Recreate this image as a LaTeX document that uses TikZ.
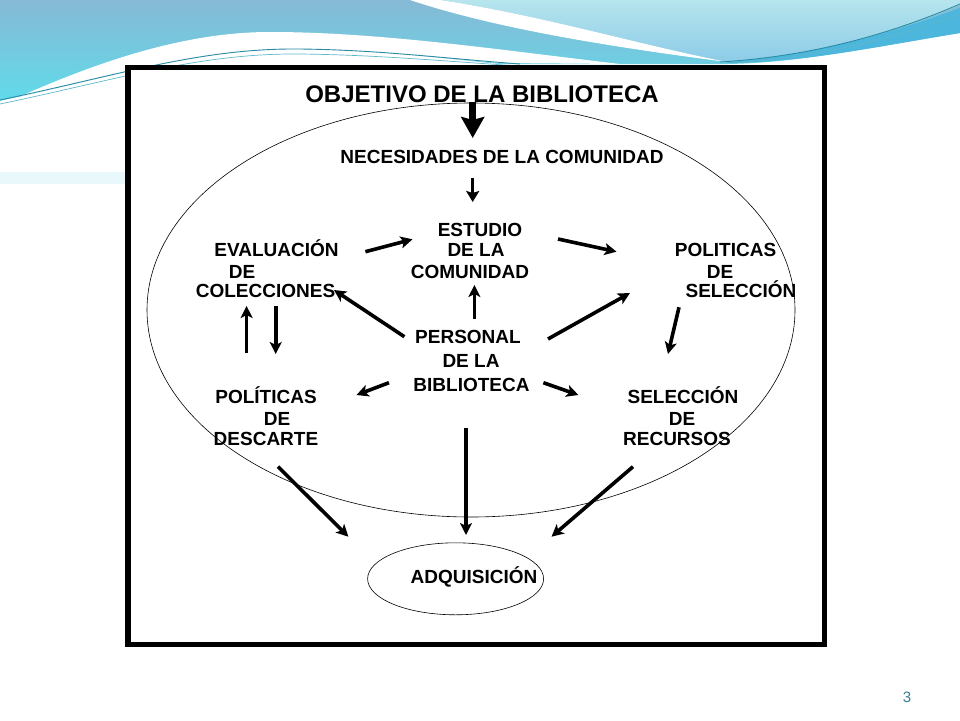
\documentclass[tikz,border=0pt]{standalone}
\usepackage{fontspec}
\setmainfont{Liberation Sans}
\usetikzlibrary{arrows.meta,shapes.geometric}
\definecolor{bandtop}{HTML}{86B9D5}
\definecolor{bandbot}{HTML}{60DBEA}
\definecolor{aquatop}{HTML}{B6E5ED}
\definecolor{aquabot}{HTML}{8CCBE8}
\definecolor{deepblue}{HTML}{4DB6DC}
\definecolor{tealline}{HTML}{2A8CA3}
\definecolor{tealline2}{HTML}{5FB8CC}
\definecolor{faintband}{HTML}{E9F8FA}
\definecolor{pagenum}{HTML}{347F92}
\tikzset{
  lbl/.style={font=\fontsize{19}{21}\selectfont\bfseries, inner sep=0pt, anchor=base},
  ttl/.style={font=\fontsize{24}{26}\selectfont\bfseries, inner sep=0pt, anchor=base},
  arr/.style={line width=3.6pt, -{Stealth[length=12pt,width=12pt,inset=3pt]}},
  thinarr/.style={line width=3pt, -{Stealth[length=11pt,width=13pt,inset=2pt]}},
  bigarr/.style={line width=7pt, -{Stealth[length=21pt,width=23pt,inset=3pt]}},
  ovalnode/.style={draw, ellipse, line width=0.6pt, inner sep=0pt}
}
\begin{document}
\begin{tikzpicture}[x=1pt,y=-1pt]
\useasboundingbox (0,0) rectangle (960,720);
\fill[white] (0,0) rectangle (960,720);
\fill[faintband] (0,172) rectangle (126,184);
% --- slide decoration ---
\shade[top color=bandtop, bottom color=bandbot]
  (0,0) -- (960,0) -- (960,33) .. controls (880,46) and (800,63) .. (727,64)
  -- (500,64) .. controls (440,58) and (380,50) .. (300,49)
  .. controls (200,48) and (120,75) .. (0,101) -- cycle;
\shade[top color=aquatop, bottom color=aquabot]
  (440,0) .. controls (540,15) and (640,45) .. (727,62)
  .. controls (820,55) and (900,30) .. (960,5) -- (960,0) -- cycle;
\fill[deepblue]
  (727,62) .. controls (820,55) and (900,30) .. (960,8) -- (960,33)
  .. controls (880,46) and (800,63) .. (727,63) -- cycle;
\fill[white]
  (410,0) .. controls (500,30) and (620,48) .. (727,62)
  .. controls (640,45) and (540,15) .. (440,0) -- cycle;
\fill[white]
  (12,100) .. controls (90,65) and (180,32) .. (270,32)
  .. controls (380,32) and (500,50) .. (620,64)
  -- (500,63) .. controls (440,58) and (380,50) .. (300,49)
  .. controls (200,48) and (120,75) .. (0,101) -- cycle;
\draw[tealline, line width=0.9pt]
  (0,100) .. controls (120,75) and (200,48) .. (300,49) .. controls (380,50) and (440,58) .. (520,64);
\draw[tealline2, line width=0.7pt]
  (0,104) .. controls (120,79) and (200,53) .. (300,54) .. controls (380,55) and (440,61) .. (520,66);
\draw[tealline, line width=0.9pt]
  (720,62) .. controls (820,56) and (900,30) .. (960,4);
\draw[tealline2, line width=0.7pt]
  (730,63) .. controls (820,58) and (900,36) .. (960,14);
% --- frame ---
\draw[line width=5.5pt, fill=white] (128,67.5) rectangle (824.5,644.5);
% --- ellipses ---
\node[ovalnode, minimum width=648pt, minimum height=414pt] (bigoval) at (471,310) {};
\node[ovalnode, minimum width=176pt, minimum height=72pt] (adqoval) at (455.6,578.8) {};
% --- texts ---
\node[ttl] (title) at (482,102) {OBJETIVO DE LA BIBLIOTECA};
\node[lbl] (nec) at (502,163.3) {NECESIDADES DE LA COMUNIDAD};
\node[lbl] (est1) at (480,236.3) {ESTUDIO};
\node[lbl] (est2) at (476,256.8) {DE LA};
\node[lbl] (est3) at (470,278.3) {COMUNIDAD};
\node[lbl] (eva1) at (276.5,256.8) {EVALUACIÓN};
\node[lbl] (eva2) at (242,278.8) {DE};
\node[lbl] (eva3) at (265.5,297.8) {COLECCIONES};
\node[lbl] (pol1) at (725.5,256.8) {POLITICAS};
\node[lbl] (pol2) at (720,278.8) {DE};
\node[lbl] (pol3) at (741,297.8) {SELECCIÓN};
\node[lbl] (per1) at (468,343.3) {PERSONAL};
\node[lbl] (per2) at (471,367) {DE LA};
\node[lbl] (per3) at (471.5,391) {BIBLIOTECA};
\node[lbl] (des1) at (266,403.3) {POLÍTICAS};
\node[lbl] (des2) at (277,425.3) {DE};
\node[lbl] (des3) at (266,445.3) {DESCARTE};
\node[lbl] (rec1) at (683,403.3) {SELECCIÓN};
\node[lbl] (rec2) at (682,425.3) {DE};
\node[lbl] (rec3) at (677,445.3) {RECURSOS};
\node[lbl] (adq) at (474,583) {ADQUISICIÓN};
\node[font=\fontsize{15}{17}\selectfont, text=pagenum, inner sep=0pt, anchor=base] (pnum) at (907,702) {3};
% --- arrow end points ---
\coordinate (t0) at (472.7,102);  \coordinate (t1) at (472.7,138);
\coordinate (n0) at (472.7,178);  \coordinate (n1) at (472.7,202);
\coordinate (ee0) at (365.4,251.7); \coordinate (ee1) at (412.5,239.3);
\coordinate (ep0) at (558,239);   \coordinate (ep1) at (616.5,251.7);
\coordinate (pc0) at (404.4,336.7); \coordinate (pc1) at (334,290);
\coordinate (pu0) at (474.4,319.3); \coordinate (pu1) at (474.4,285);
\coordinate (ps0) at (548,339);   \coordinate (ps1) at (630,293);
\coordinate (lu0) at (246.6,353.3); \coordinate (lu1) at (246.6,306);
\coordinate (ld0) at (275.7,306); \coordinate (ld1) at (275.7,354);
\coordinate (sr0) at (679,307.3); \coordinate (sr1) at (668,354);
\coordinate (pd0) at (389,382.7); \coordinate (pd1) at (356.5,395);
\coordinate (pr0) at (543.4,382.7); \coordinate (pr1) at (578.4,395);
\coordinate (da0) at (278,466.7); \coordinate (da1) at (348.4,536.7);
\coordinate (ca0) at (466,428);   \coordinate (ca1) at (466,535);
\coordinate (ra0) at (633,466.7); \coordinate (ra1) at (551.5,536.7);
% --- arrows ---
\draw[bigarr] (t0) -- (t1);
\draw[thinarr] (n0) -- (n1);
\draw[arr] (ee0) -- (ee1);
\draw[arr] (ep0) -- (ep1);
\draw[arr] (pc0) -- (pc1);
\draw[arr] (pu0) -- (pu1);
\draw[arr] (ps0) -- (ps1);
\draw[arr] (lu0) -- (lu1);
\draw[arr] (ld0) -- (ld1);
\draw[arr] (sr0) -- (sr1);
\draw[arr] (pd0) -- (pd1);
\draw[arr] (pr0) -- (pr1);
\draw[arr] (da0) -- (da1);
\draw[arr] (ca0) -- (ca1);
\draw[arr] (ra0) -- (ra1);
\end{tikzpicture}
\end{document}
